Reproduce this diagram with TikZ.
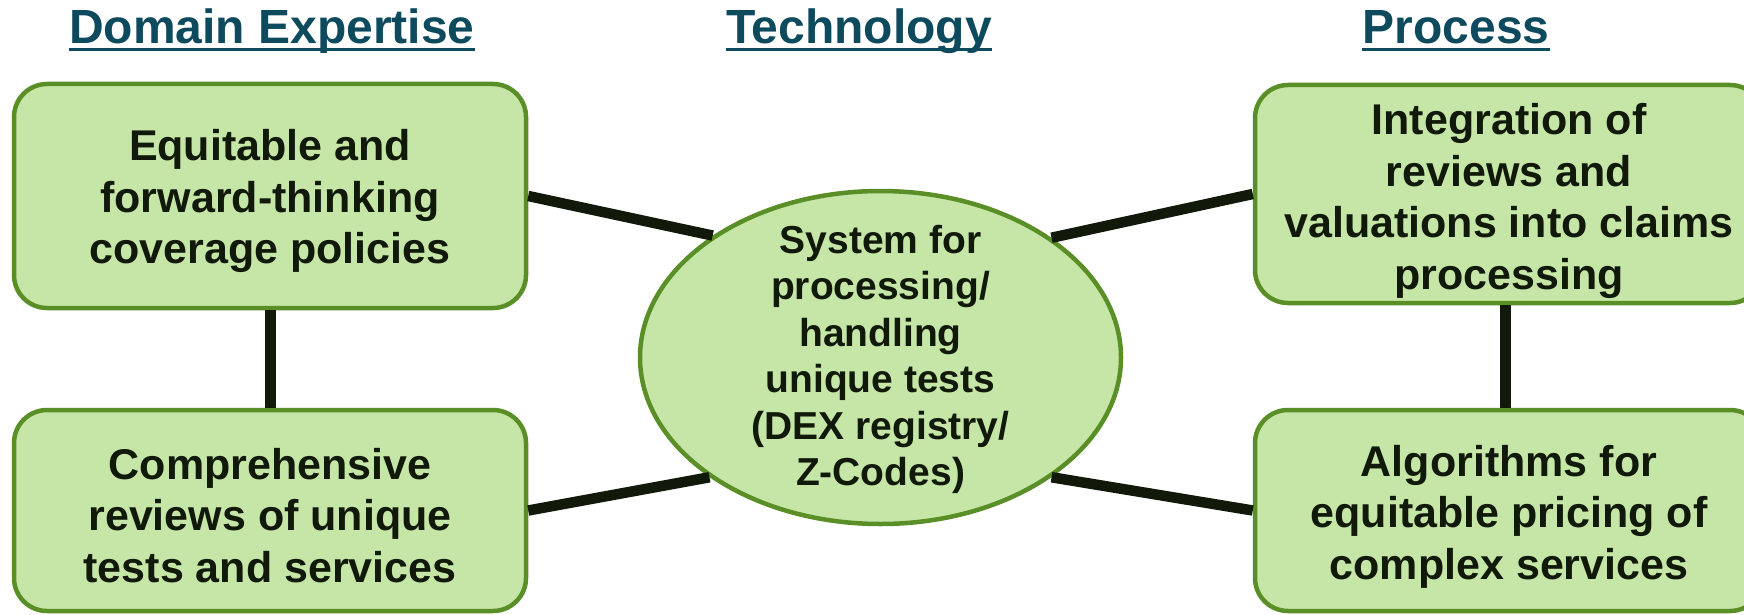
\documentclass[tikz,border=0pt]{standalone}
\usepackage{fontspec}
\setmainfont{Liberation Sans}
\usetikzlibrary{shapes.geometric}
\definecolor{boxfill}{HTML}{C6E6A7}
\definecolor{boxline}{HTML}{5A8E27}
\definecolor{linkcol}{HTML}{111A0A}
\definecolor{titlecol}{HTML}{0D4A5E}
\tikzset{
  card/.style={draw=boxline, fill=boxfill, line width=4.5pt, rounded corners=33pt,
    inner sep=0pt},
  cardtext/.style={inner sep=0pt, align=center, text=linkcol,
    font=\fontsize{43}{51.6}\selectfont\bfseries},
  oval/.style={ellipse, draw=boxline, fill=boxfill, line width=4.5pt,
    inner sep=0pt, minimum width=481pt, minimum height=333pt},
  ovaltext/.style={inner sep=0pt, align=center, text=linkcol,
    font=\fontsize{39}{46.5}\selectfont\bfseries},
  link/.style={draw=linkcol, line width=10.5pt},
  vlink/.style={draw=linkcol, line width=11pt},
  heading/.style={anchor=base, inner sep=0pt, text=titlecol, font=\fontsize{48}{56}\selectfont\bfseries},
  uline/.style={draw=titlecol, line width=3pt}
}
\begin{document}
\begin{tikzpicture}[x=1pt, y=-1pt]
\useasboundingbox (0,0) rectangle (1744,615);
% headings
\node[heading] (h1) at (272,44) {Domain Expertise};
\node[heading] (h2) at (859,44) {Technology};
\node[heading] (h3) at (1456,44) {Process};
\foreach \h in {h1,h2,h3}{
  \draw[uline] ([yshift=-6pt]\h.base west) -- ([yshift=-6pt]\h.base east);
}
% nodes
\node[card, minimum width=512pt, minimum height=224pt] (tl) at (270,196) {};
\node[card, minimum width=512pt, minimum height=201pt] (bl) at (270,510.5) {};
\node[card, minimum width=508pt, minimum height=218pt] (tr) at (1509,194) {};
\node[card, minimum width=508pt, minimum height=201pt] (br) at (1509,510.5) {};
\node[oval] (e) at (880.5,357.5) {};
% texts
\node[cardtext] (tlt) at ([yshift=-5pt]tl.center) {Equitable and\\forward-thinking\\coverage policies};
\node[cardtext] (blt) at ([yshift=-5pt]bl.center) {Comprehensive\\reviews of unique\\tests and services};
\node[cardtext] (trt) at ([yshift=-7pt]tr.center) {Integration of\\reviews and\\valuations into claims\\processing};
\node[cardtext] (brt) at ([yshift=-6pt]br.center) {Algorithms for\\equitable pricing of\\complex services};
\node[ovaltext] (et) at ([yshift=-2pt]e.center) {System for\\processing/\\handling\\unique tests\\(DEX registry/\\Z-Codes)};
% connectors
\draw[link] (tl.east) -- (e.144.75);
\draw[link] (bl.east) -- (e.215.25);
\draw[link] (e.35.25) -- (tr.west);
\draw[link] (e.-35.25) -- (br.west);
\draw[vlink] (tl.south) -- (bl.north);
\draw[vlink] ([xshift=-4pt]tr.south) -- ([xshift=-4pt]br.north);
\end{tikzpicture}
\end{document}
